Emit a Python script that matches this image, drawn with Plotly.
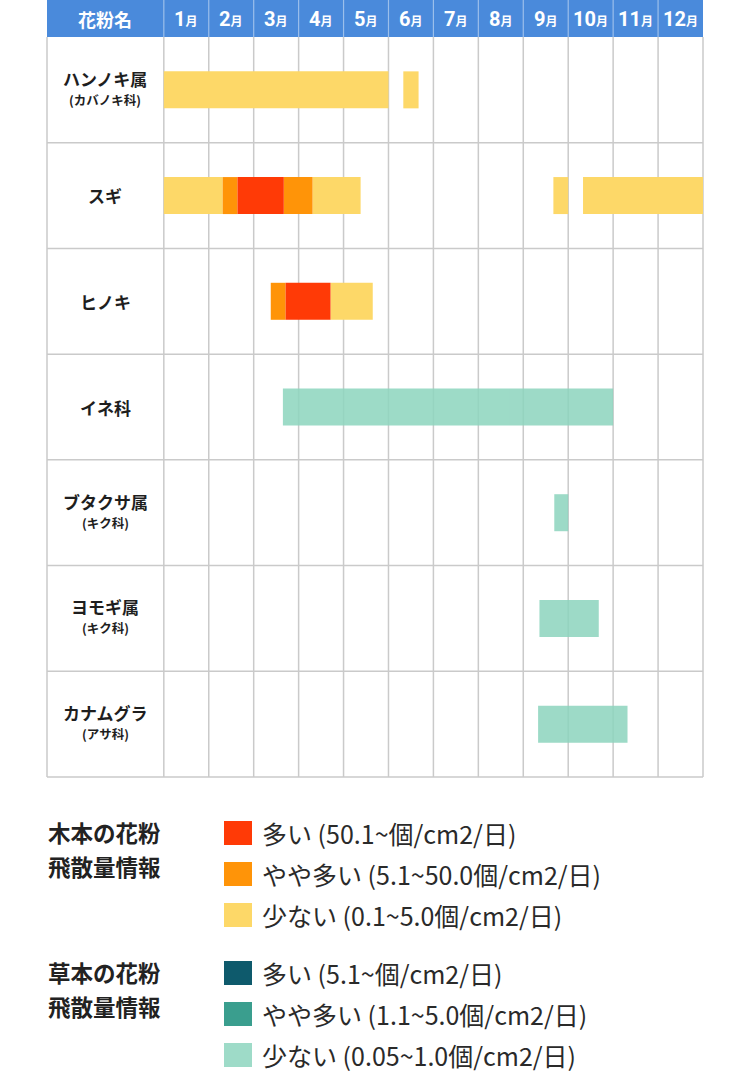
import plotly.graph_objects as go

# ---------------- data ----------------
months = ["1", "2", "3", "4", "5", "6", "7", "8", "9", "10", "11", "12"]
header_name = "花粉名"
pollen_names = ["ハンノキ属", "スギ", "ヒノキ", "イネ科", "ブタクサ属", "ヨモギ属", "カナムグラ"]
pollen_families = ["(カバノキ科)", "", "", "", "(キク科)", "(キク科)", "(アサ科)"]

# month positions: 0 = start of January, 12 = end of December
tree_low_row = [0, 0, 1, 1, 1, 1, 2]
tree_low_start = [0.00, 5.33, 0.00, 3.31, 8.67, 9.33, 3.71]
tree_low_end = [5.00, 5.67, 1.31, 4.38, 9.00, 12.00, 4.65]

tree_mid_row = [1, 1, 2]
tree_mid_start = [1.31, 2.67, 2.38]
tree_mid_end = [1.64, 3.31, 2.71]

tree_high_row = [1, 2]
tree_high_start = [1.64, 2.71]
tree_high_end = [2.67, 3.71]

herb_low_row = [3, 4, 5, 6]
herb_low_start = [2.65, 8.69, 8.36, 8.33]
herb_low_end = [10.00, 9.00, 9.68, 10.32]

tree_legend_title = ["木本の花粉", "飛散量情報"]
tree_legend_labels = ["多い (50.1~個/cm2/日)", "やや多い (5.1~50.0個/cm2/日)", "少ない (0.1~5.0個/cm2/日)"]
herb_legend_title = ["草本の花粉", "飛散量情報"]
herb_legend_labels = ["多い (5.1~個/cm2/日)", "やや多い (1.1~5.0個/cm2/日)", "少ない (0.05~1.0個/cm2/日)"]

# ---------------- styles ----------------
C_TREE_HIGH = "#FF3A06"
C_TREE_MID = "#FF9408"
C_TREE_LOW = "#FDD868"
C_HERB_HIGH = "#0E5A6C"
C_HERB_MID = "#3A9E8E"
C_HERB_LOW = "#9EDBC8"
C_HEADER = "#4A8ADB"
C_GRID = "#CACACA"
FONT = "Noto Sans CJK JP"

W, H = 750, 1074
L_PX, R_PX = 46, 704        # plot area horizontal pixel extent
PLOT_H = 778                # plot area height (pixels from top)
UNIT = (703 - 164) / 12.0   # pixels per month
X0 = -2.6 - 1 / UNIT
X1 = 12 + 1 / UNIT

fig = go.Figure()


def add_bars(rows, starts, ends, color, opacity=1.0):
    fig.add_trace(go.Bar(
        orientation="h",
        y=[r + 0.5 for r in rows],
        base=starts,
        x=[e - s for s, e in zip(starts, ends)],
        width=0.35,
        marker=dict(color=color, line=dict(width=0)),
        opacity=opacity,
        showlegend=False,
        hoverinfo="skip",
    ))


add_bars(tree_low_row, tree_low_start, tree_low_end, C_TREE_LOW)
add_bars(tree_mid_row, tree_mid_start, tree_mid_end, C_TREE_MID)
add_bars(tree_high_row, tree_high_start, tree_high_end, C_TREE_HIGH)
add_bars(herb_low_row, herb_low_start, herb_low_end, "#8DD5BE", opacity=0.86)

shapes = []
# header background
shapes.append(dict(type="rect", xref="x", yref="y", x0=-2.6, x1=12, y0=-0.35, y1=0,
                   fillcolor=C_HEADER, line=dict(width=0), layer="below"))
# header separators
for k in range(0, 12):
    shapes.append(dict(type="line", xref="x", yref="y", x0=k, x1=k, y0=-0.35, y1=0,
                       line=dict(color="rgba(255,255,255,0.45)", width=1.2), layer="below"))
# table grid: vertical lines
for xv in [-2.6] + list(range(0, 13)):
    shapes.append(dict(type="line", xref="x", yref="y", x0=xv, x1=xv, y0=0, y1=7,
                       line=dict(color=C_GRID, width=1.5), layer="below"))
# table grid: horizontal lines
for yv in range(1, 8):
    shapes.append(dict(type="line", xref="x", yref="y", x0=-2.6, x1=12, y0=yv, y1=yv,
                       line=dict(color=C_GRID, width=1.5), layer="below"))

annotations = []
# header texts
annotations.append(dict(xref="x", yref="y", x=-1.3, y=-0.175, text="<b>" + header_name + "</b>",
                        showarrow=False, font=dict(family=FONT, size=18, color="white")))
for i, m in enumerate(months):
    annotations.append(dict(
        xref="x", yref="y", x=i + 0.5, y=-0.175,
        text="<span style='font-size:20px'><b>" + m + "</b></span>"
             "<span style='font-size:12px'><b>月</b></span>",
        showarrow=False, font=dict(family="Roboto, " + FONT, size=20, color="white")))

# row labels
for i, (name, fam) in enumerate(zip(pollen_names, pollen_families)):
    if fam:
        annotations.append(dict(xref="x", yref="y", x=-1.3, y=i + 0.5 - 0.11,
                                text="<b>" + name + "</b>", showarrow=False,
                                font=dict(family=FONT, size=17, color="#1E1E1E")))
        annotations.append(dict(xref="x", yref="y", x=-1.3, y=i + 0.5 + 0.09,
                                text="<b>" + fam + "</b>", showarrow=False,
                                font=dict(family=FONT, size=12.5, color="#1E1E1E")))
    else:
        annotations.append(dict(xref="x", yref="y", x=-1.3, y=i + 0.5,
                                text="<b>" + name + "</b>", showarrow=False,
                                font=dict(family=FONT, size=17, color="#1E1E1E")))


def px_x(px):
    return (px - L_PX) / (R_PX - L_PX)


def px_y(py):
    return (PLOT_H - py) / PLOT_H


def add_legend_group(title_lines, labels, colors, title_y, item_y):
    for line, ty in zip(title_lines, title_y):
        annotations.append(dict(xref="paper", yref="paper", x=px_x(46), y=px_y(ty),
                                xanchor="left", yanchor="middle",
                                text="<b>" + line + "</b>",
                                showarrow=False, font=dict(family=FONT, size=22.5, color="#222222")))
    for lab, col, iy in zip(labels, colors, item_y):
        shapes.append(dict(type="rect", xref="paper", yref="paper",
                           x0=px_x(224), x1=px_x(252), y0=px_y(iy - 12), y1=px_y(iy + 12),
                           fillcolor=col, line=dict(width=0)))
        annotations.append(dict(xref="paper", yref="paper", x=px_x(260), y=px_y(iy),
                                xanchor="left", yanchor="middle", text=lab,
                                showarrow=False, font=dict(family=FONT, size=25, color="#2A2A2A")))


add_legend_group(tree_legend_title, tree_legend_labels, [C_TREE_HIGH, C_TREE_MID, C_TREE_LOW],
                 [832, 866], [833, 874, 915])
add_legend_group(herb_legend_title, herb_legend_labels, [C_HERB_HIGH, C_HERB_MID, C_HERB_LOW],
                 [972, 1006], [973, 1014, 1055])

fig.update_layout(
    width=W, height=H,
    margin=dict(l=L_PX, r=W - R_PX, t=0, b=H - PLOT_H),
    paper_bgcolor="white", plot_bgcolor="white",
    barmode="overlay",
    xaxis=dict(range=[X0, X1], visible=False, fixedrange=True),
    yaxis=dict(range=[7 + 1 / 105.7, -0.35], visible=False, fixedrange=True),
    shapes=shapes,
    annotations=annotations,
    showlegend=False,
    font=dict(family=FONT),
)

fig.write_html("out.html", config={"displayModeBar": False},
               post_script="document.body.style.margin='0';document.body.style.overflow='hidden';")
